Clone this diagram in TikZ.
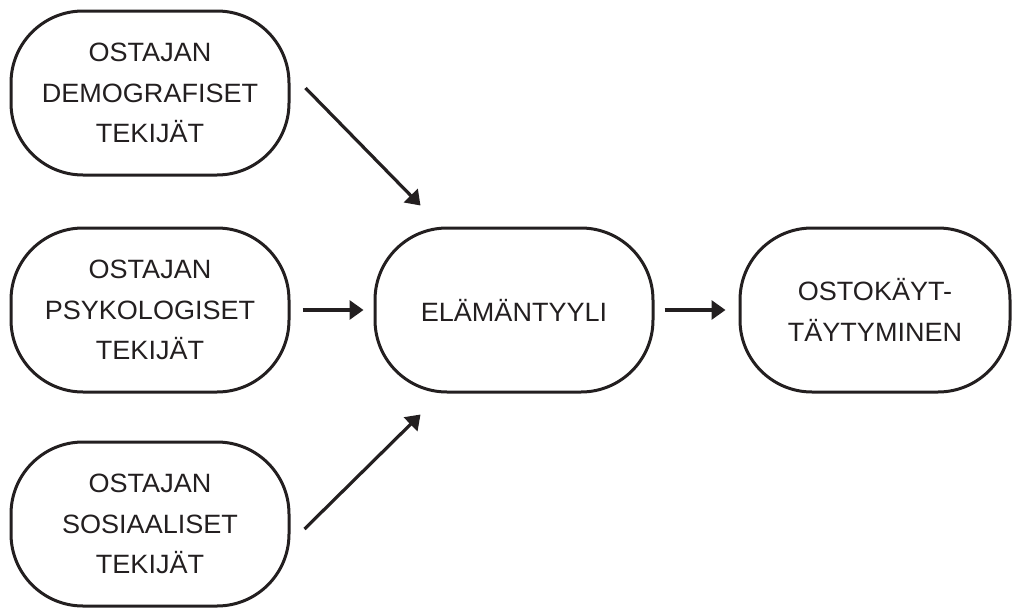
\documentclass[tikz,border=0pt]{standalone}
\usepackage{fontspec}
\setmainfont{Liberation Sans}[FakeStretch=1.02]
\usetikzlibrary{arrows.meta,calc}
\definecolor{ink}{HTML}{231F20}
\begin{document}
\begin{tikzpicture}[x=1pt,y=-1pt,
  factor/.style={draw=ink, line width=3pt, rounded corners=72pt,
    minimum width=278pt, minimum height=164pt, inner sep=0pt,
    align=center, text=ink, font=\fontsize{26.5}{40.5}\selectfont},
  flow/.style={draw=ink, line width=3.2pt,
    -{Triangle[length=14pt,width=19pt]}}]
  \useasboundingbox (0,0) rectangle (1013,608);

  % three groups of buyer factors
  \node[factor] (dem) at (150,93)  {OSTAJAN\\DEMOGRAFISET\\TEKIJÄT};
  \node[factor] (psy) at (150,310) {OSTAJAN\\PSYKOLOGISET\\TEKIJÄT};
  \node[factor] (soc) at (150,524) {OSTAJAN\\SOSIAALISET\\TEKIJÄT};

  % lifestyle and purchase behaviour
  \node[factor] (life) at (514,310) {ELÄMÄNTYYLI};
  \node[factor, minimum width=270pt] (buy) at (875,310) {OSTOKÄYT-\\TÄYTYMINEN};

  % connectors
  \draw[flow] ($(dem.east)+(15,-5)$) -- ($(life.north west)+(47,-21)$);
  \draw[flow] ($(psy.east)+(12,0)$) -- ($(life.west)+(-10,0)$);
  \draw[flow] ($(soc.east)+(14,5)$) -- ($(life.south west)+(47,21)$);
  \draw[flow] ($(life.east)+(10,0)$) -- ($(buy.west)+(-13,0)$);
\end{tikzpicture}
\end{document}
